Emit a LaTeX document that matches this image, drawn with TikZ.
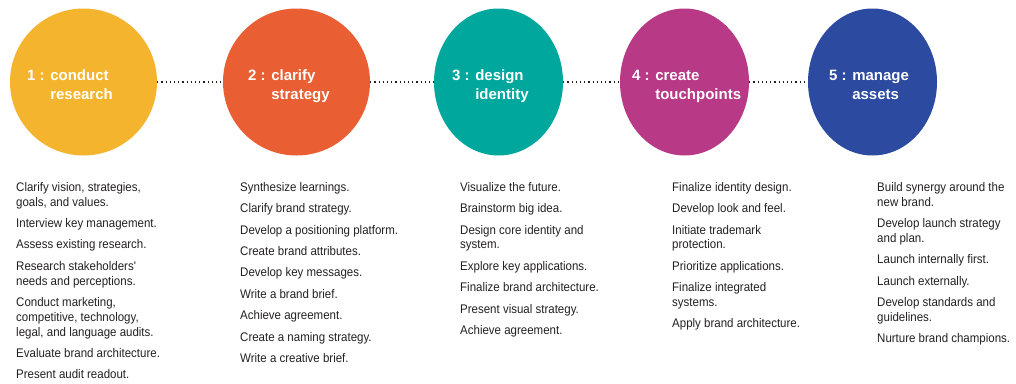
\documentclass[tikz,border=0pt]{standalone}
\usepackage{fontspec}
\setmainfont{Liberation Sans}
\newfontfamily\listfont[FakeStretch=0.92]{Liberation Sans}
\usetikzlibrary{shapes.geometric, positioning}

\definecolor{phaseyellow}{RGB}{245,180,46}
\definecolor{phaseorange}{RGB}{233,94,50}
\definecolor{phaseteal}{RGB}{0,167,157}
\definecolor{phasemagenta}{RGB}{184,57,134}
\definecolor{phaseblue}{RGB}{43,74,160}
\definecolor{tasktext}{RGB}{35,32,32}

\newcommand\nextstep{\\[6.6pt]}

\begin{document}
\begin{tikzpicture}[x=1pt, y=-1pt,
	phase/.style={ellipse, draw=none, inner sep=0pt, minimum height=147pt},
	phasetext/.style={anchor=base west, inner sep=0pt, align=left, text=white, font=\fontsize{15}{19}\selectfont\bfseries},
	tasks/.style={anchor=north west, inner sep=0pt, align=left, text=tasktext, font=\listfont\fontsize{12.5}{14.8}\selectfont},
	dotline/.style={line width=1.2pt, dash pattern=on 1.2pt off 3pt, tasktext}]
		\useasboundingbox (0,0) rectangle (1016,383);
		% the five phases
		\node[phase, fill=phaseyellow, minimum width=147pt] (research) at (83.5,82) {};
		\node[phase, fill=phaseorange, minimum width=147pt] (strategy) at (296.5,82) {};
		\node[phase, fill=phaseteal, minimum width=129pt] (identity) at (498.5,82) {};
		\node[phase, fill=phasemagenta, minimum width=129pt] (touchpoints) at (684.5,82) {};
		\node[phase, fill=phaseblue, minimum width=129pt] (assets) at (872.5,82) {};
		\foreach \a/\b in {research/strategy, strategy/identity, identity/touchpoints, touchpoints/assets}{
			\draw[dotline] (\a) -- (\b);
		}
		% base sits on the second line here
		\node[phasetext] (research label) at (27,99) {1 : conduct\\\hphantom{1 : }research};
		\node[phasetext] (strategy label) at (248,99) {2 : clarify\\\hphantom{2 : }strategy};
		\node[phasetext] (identity label) at (452,99) {3 : design\\\hphantom{3 : }identity};
		\node[phasetext] (touchpoints label) at (632,99) {4 : create\\\hphantom{4 : }touchpoints};
		\node[phasetext] (assets label) at (829,99) {5 : manage\\\hphantom{5 : }assets};
		% task lists under each phase
		\node[tasks] (research tasks) at (16,182) {Clarify vision, strategies,\\goals, and values.\nextstep
			Interview key management.\nextstep
			Assess existing research.\nextstep
			Research stakeholders'\\needs and perceptions.\nextstep
			Conduct marketing,\\competitive, technology,\\legal, and language audits.\nextstep
			Evaluate brand architecture.\nextstep
			Present audit readout.};
		\node[tasks] (strategy tasks) at (240,182) {Synthesize learnings.\nextstep
			Clarify brand strategy.\nextstep
			Develop a positioning platform.\nextstep
			Create brand attributes.\nextstep
			Develop key messages.\nextstep
			Write a brand brief.\nextstep
			Achieve agreement.\nextstep
			Create a naming strategy.\nextstep
			Write a creative brief.};
		\node[tasks] (identity tasks) at (460,182) {Visualize the future.\nextstep
			Brainstorm big idea.\nextstep
			Design core identity and\\system.\nextstep
			Explore key applications.\nextstep
			Finalize brand architecture.\nextstep
			Present visual strategy.\nextstep
			Achieve agreement.};
		\node[tasks] (touchpoints tasks) at (672,182) {Finalize identity design.\nextstep
			Develop look and feel.\nextstep
			Initiate trademark\\protection.\nextstep
			Prioritize applications.\nextstep
			Finalize integrated\\systems.\nextstep
			Apply brand architecture.};
		\node[tasks] (assets tasks) at (877,182) {Build synergy around the\\new brand.\nextstep
			Develop launch strategy\\and plan.\nextstep
			Launch internally first.\nextstep
			Launch externally.\nextstep
			Develop standards and\\guidelines.\nextstep
			Nurture brand champions.};
	\end{tikzpicture}
\end{document}
